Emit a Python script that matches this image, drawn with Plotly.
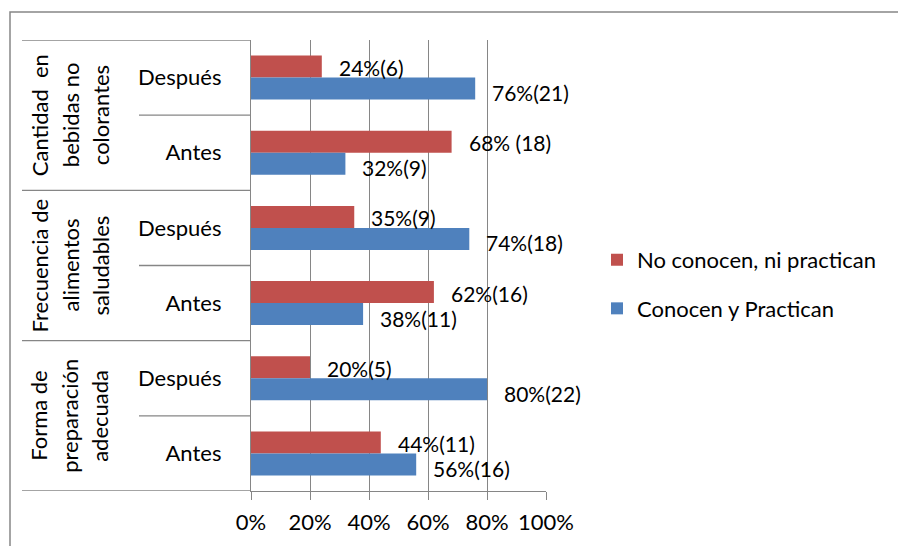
import plotly.graph_objects as go

# Categories listed bottom-to-top (plotly's y axis grows upward)
group_lines = [
    ["Forma de", "preparación", "adecuada"],
    ["Frecuencia de", "alimentos", "saludables"],
    ["Cantidad  en", "bebidas no", "colorantes"],
]
phases = ["Antes", "Después", "Antes", "Después", "Antes", "Después"]

conocen = [56, 80, 38, 74, 32, 76]
no_conocen = [44, 20, 62, 35, 68, 24]
conocen_labels = ["56%(16)", "80%(22)", "38%(11)", "74%(18)", "32%(9)", "76%(21)"]
no_conocen_labels = ["44%(11)", "20%(5)", "62%(16)", "35%(9)", "68% (18)", "24%(6)"]

x_ticks = [0, 20, 40, 60, 80, 100]

BLUE = "#4F81BD"
RED = "#C0504D"
GRID = "#868686"
FONT = "Lato"
FS = 22

pos = list(range(len(phases)))
W = 0.293  # bar thickness in category units

fig = go.Figure()
fig.add_trace(go.Bar(
    y=pos, x=[v / 100 for v in no_conocen], orientation="h",
    width=W, offset=0, marker=dict(color=RED, line=dict(width=0)),
    name="No conocen, ni practican", legendgroup="b",
))
fig.add_trace(go.Bar(
    y=pos, x=[v / 100 for v in conocen], orientation="h",
    width=W, offset=-W, marker=dict(color=BLUE, line=dict(width=0)),
    name="Conocen y Practican", legendgroup="a",
))

text_font = dict(family=FONT, size=FS, color="black")
value_font = dict(family=FONT, size=21, color="black")
annotations = []
for p, v, t in zip(pos, conocen, conocen_labels):
    annotations.append(dict(x=v / 100, y=p - W / 2, text=t, xref="x", yref="y",
                            xanchor="left", yanchor="middle", xshift=15, yshift=-4,
                            showarrow=False, font=value_font))
for p, v, t in zip(pos, no_conocen, no_conocen_labels):
    annotations.append(dict(x=v / 100, y=p + W / 2, text=t, xref="x", yref="y",
                            xanchor="left", yanchor="middle", xshift=15, yshift=-1,
                            showarrow=False, font=value_font))

# Plot-area geometry used to place the left-hand category table
L, R, T, B = 251, 352, 40, 55
PW = 898 - L - R

def px_to_paper(px):
    return (px - L) / PW

# Rotated group titles, one annotation per line
line_cols = [39, 70, 100]
for gi, lines in enumerate(group_lines):
    yc = 2 * gi + 0.5
    for col, txt in zip(line_cols, lines):
        annotations.append(dict(x=px_to_paper(col), y=yc, xref="paper", yref="y",
                                text=txt, textangle=-90, showarrow=False,
                                xanchor="center", yanchor="middle", font=text_font))

shapes = []
# Divider lines of the category table
for k in range(len(phases) + 1):
    yb = k - 0.5
    x0 = px_to_paper(22) if k % 2 == 0 else px_to_paper(139)
    shapes.append(dict(type="line", xref="paper", yref="y", x0=x0, x1=0, y0=yb, y1=yb,
                       line=dict(color=GRID, width=1.3)))
# Outer chart frame
shapes.append(dict(type="rect", xref="paper", yref="paper",
                   x0=px_to_paper(10), x1=3, y0=-1, y1=(546 - B - 12) / (546 - T - B),
                   line=dict(color=GRID, width=1.5), fillcolor="rgba(0,0,0,0)", layer="below"))

fig.update_layout(
    width=898, height=546,
    margin=dict(l=L, r=R, t=T, b=B),
    paper_bgcolor="white", plot_bgcolor="white",
    barmode="overlay",
    font=text_font,
    showlegend=True,
    legend=dict(x=px_to_paper(597), y=0.458, xanchor="left", yanchor="middle",
                traceorder="grouped", tracegroupgap=17,
                font=text_font, bgcolor="rgba(0,0,0,0)"),
    annotations=annotations,
    shapes=shapes,
    xaxis=dict(range=[0, 1], tickvals=[v / 100 for v in x_ticks],
               ticktext=[f"{v}%" for v in x_ticks],
               showgrid=True, gridcolor=GRID, gridwidth=1,
               showline=True, linecolor=GRID, linewidth=1.3,
               ticks="outside", ticklen=8, tickcolor=GRID, tickwidth=1.3,
               ticklabelstandoff=3,
               zeroline=False, tickfont=text_font),
    yaxis=dict(range=[-0.5, len(phases) - 0.5], tickvals=pos, ticktext=phases,
               showgrid=False, zeroline=False,
               showline=True, linecolor=GRID, linewidth=1.3,
               ticks="", ticklabelstandoff=24, tickfont=text_font),
)

fig.write_html("out.html")
